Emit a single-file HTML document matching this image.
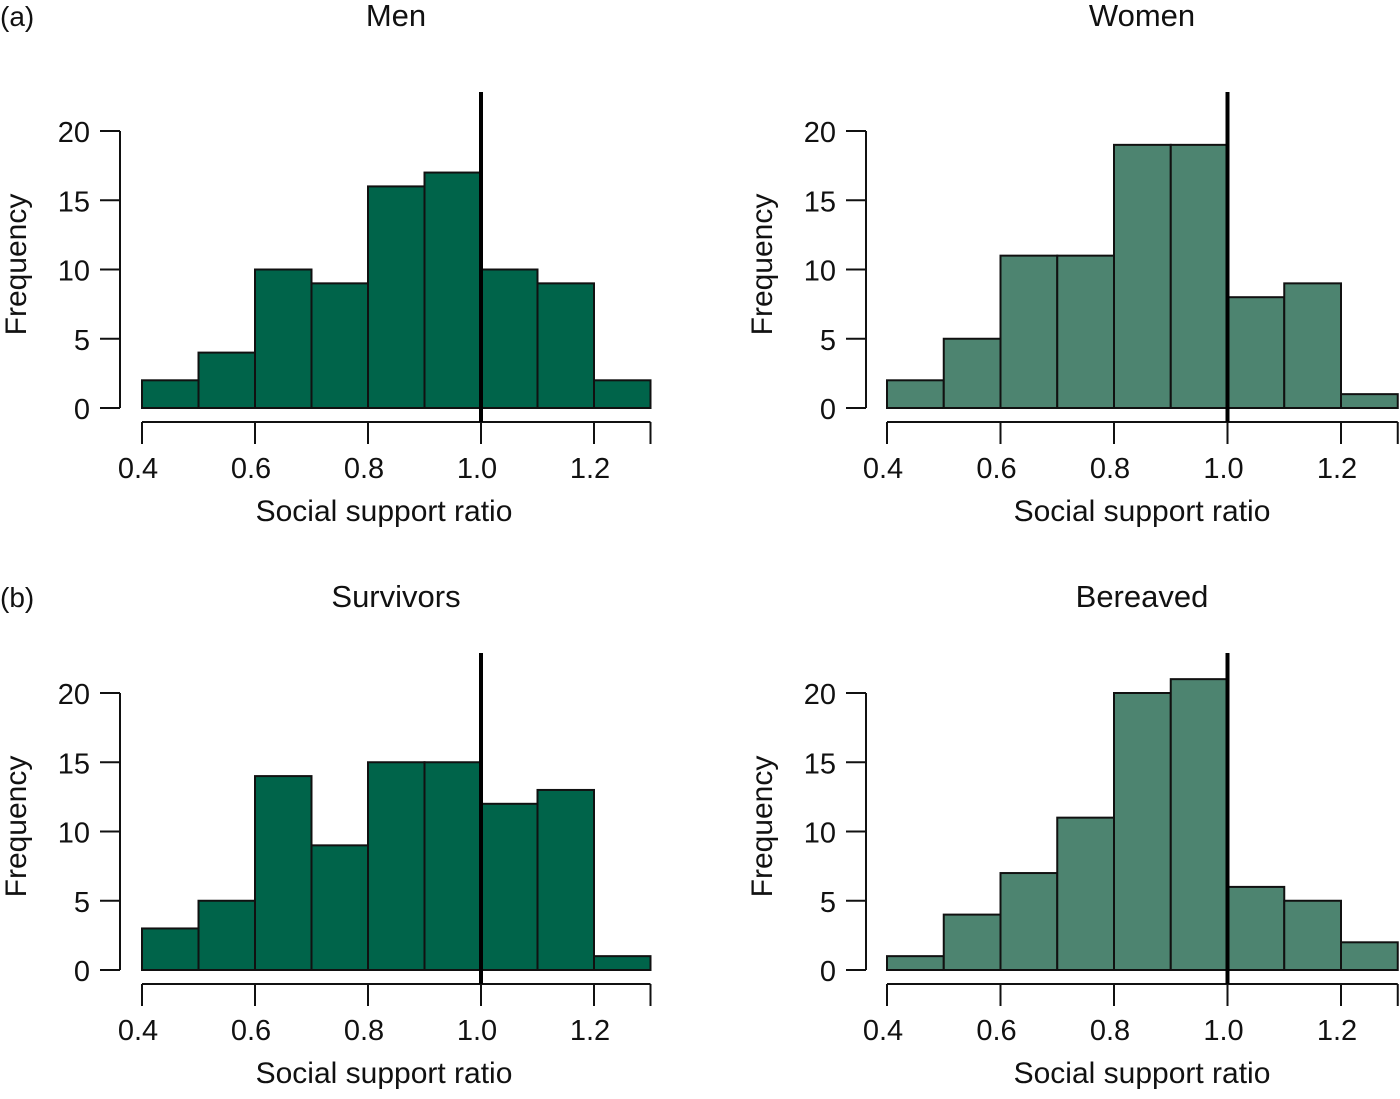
<!DOCTYPE html>
<html><head><meta charset="utf-8">
<style>
body{margin:0;background:#fff;}
svg text{font-family:"Liberation Sans",sans-serif;fill:#111;}
</style></head>
<body>
<svg id="chart" width="1400" height="1094" xmlns="http://www.w3.org/2000/svg"></svg>
<script>
const binEdges = [0.4,0.5,0.6,0.7,0.8,0.9,1.0,1.1,1.2,1.3];
const xTicks = [0.4,0.6,0.8,1.0,1.2];
const xTickMarks = [0.4,0.6,0.8,1.0,1.2,1.3];
const xTickLabels = ["0.4","0.6","0.8","1.0","1.2"];
const yTicks = [0,5,10,15,20];
const menCounts = [2,4,10,9,16,17,10,9,2];
const womenCounts = [2,5,11,11,19,19,8,9,1];
const survivorsCounts = [3,5,14,9,15,15,12,13,1];
const bereavedCounts = [1,4,7,11,20,21,6,5,2];
const refLine = 1.0;

const svg = document.getElementById('chart');
const NS = 'http://www.w3.org/2000/svg';
function el(tag, attrs, parent){const e=document.createElementNS(NS,tag);for(const k in attrs)e.setAttribute(k,attrs[k]);(parent||svg).appendChild(e);return e;}

const panels = [
 {name:'men',title:'Men',counts:menCounts,fill:'#00644a',x0:142,x1:594,yAxisX:120,y0:408,y20:131,top:92,axisY:422,titleX:396,titleY:26,xTitleX:384,tag:'(a)'},
 {name:'women',title:'Women',counts:womenCounts,fill:'#4d8470',x0:887,x1:1341,yAxisX:866,y0:408,y20:131,top:92,axisY:422,titleX:1142,titleY:26,xTitleX:1142},
 {name:'survivors',title:'Survivors',counts:survivorsCounts,fill:'#00644a',x0:142,x1:594,yAxisX:120,y0:970,y20:693,top:653,axisY:984,titleX:396,titleY:607,xTitleX:384,tag:'(b)'},
 {name:'bereaved',title:'Bereaved',counts:bereavedCounts,fill:'#4d8470',x0:887,x1:1341,yAxisX:866,y0:970,y20:693,top:653,axisY:984,titleX:1142,titleY:607,xTitleX:1142}
];

panels.forEach(p=>{
  const g = el('g',{});
  
  
  const xs = v => p.x0 + (v-0.4)/0.8*(p.x1-p.x0);
  const ys = v => p.y0 - v/20*(p.y0-p.y20);
  if(p.tag){const t=el('text',{x:0,y:p.titleY,'font-size':28},g);t.textContent=p.tag;
    }
  const tt=el('text',{x:p.titleX,y:p.titleY,'font-size':31,'text-anchor':'middle'},g);tt.textContent=p.title;
  
  
  p.counts.forEach((c,i)=>{
    const r=el('rect',{x:xs(binEdges[i]),y:ys(c),width:xs(binEdges[i+1])-xs(binEdges[i]),height:ys(0)-ys(c),fill:p.fill,stroke:'#111','stroke-width':2},g);
    
    
  });
  const ya=el('line',{x1:p.yAxisX,x2:p.yAxisX,y1:ys(20),y2:ys(0),stroke:'#111','stroke-width':2},g);
  
  
  yTicks.forEach(v=>{
    el('line',{x1:p.yAxisX-20,x2:p.yAxisX,y1:ys(v),y2:ys(v),stroke:'#111','stroke-width':2},g);
    const t=el('text',{x:p.yAxisX-30,y:ys(v)+11,'font-size':29,'text-anchor':'end'},g);t.textContent=v;
    
    
  });
  const yl=el('text',{x:0,y:0,'font-size':30,'text-anchor':'middle',transform:`translate(${p.yAxisX-94},${(ys(0)+ys(20))/2-5}) rotate(-90)`},g);
  yl.textContent='Frequency';
  
  
  const xa=el('line',{x1:xs(0.4),x2:xs(1.3),y1:p.axisY,y2:p.axisY,stroke:'#111','stroke-width':2},g);
  
  
  xTickMarks.forEach(v=>{el('line',{x1:xs(v),x2:xs(v),y1:p.axisY,y2:p.axisY+22,stroke:'#111','stroke-width':2},g);});
  xTicks.forEach((v,i)=>{
    const t=el('text',{x:xs(v)-4,y:p.axisY+56,'font-size':29,'text-anchor':'middle'},g);t.textContent=xTickLabels[i];
    
    
  });
  const xl=el('text',{x:p.xTitleX,y:p.axisY+99,'font-size':30,'text-anchor':'middle'},g);
  xl.textContent='Social support ratio';
  
  
  const rl=el('line',{x1:xs(refLine),x2:xs(refLine),y1:p.top,y2:p.axisY,stroke:'#000','stroke-width':4},g);
  
  
});
</script>
</body></html>
